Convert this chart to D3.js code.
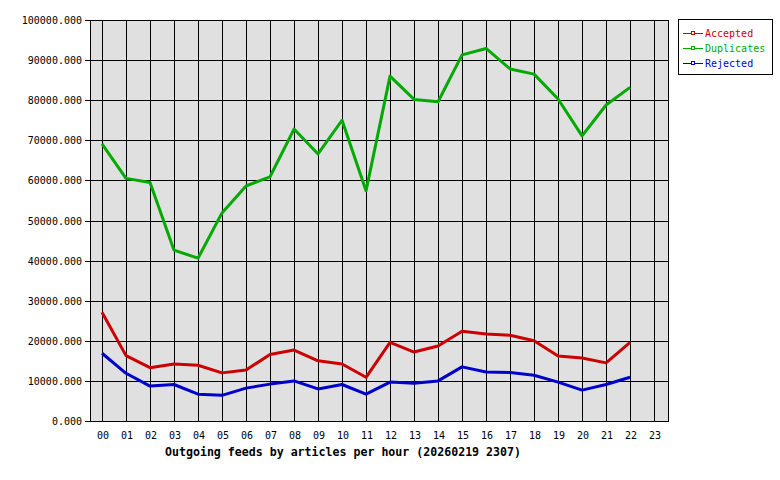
<!DOCTYPE html>
<html><head><meta charset="utf-8">
<script src="https://cdn.jsdelivr.net/npm/d3@7"></script>
<style>body{margin:0;background:#fff}svg{display:block}</style>
</head><body>
<script>
const hours = ["00","01","02","03","04","05","06","07","08","09","10","11","12","13","14","15","16","17","18","19","20","21","22","23"];
const accepted = [27100,16300,13300,14200,13900,12000,12700,16600,17700,15000,14200,10900,19600,17200,18700,22400,21700,21400,20000,16200,15700,14500,19600];
const duplicates = [69100,60500,59500,42600,40600,51900,58600,60900,72800,66600,75000,57400,86000,80200,79600,91300,92900,87800,86500,80300,71100,78800,83200];
const rejected = [16900,11900,8700,9100,6700,6400,8200,9200,10000,8000,9100,6700,9700,9400,10000,13500,12200,12100,11400,9700,7700,9100,10900];
const yTicks = [0,10000,20000,30000,40000,50000,60000,70000,80000,90000,100000];
const seriesNames = ["Accepted","Duplicates","Rejected"];
const seriesColors = ["#cc0000","#00aa00","#0000cc"];
const title = "Outgoing feeds by articles per hour (20260219 2307)";

const W=780,H=480, L=90, R=668, T=20, B=421;
const svg = d3.select("body").append("svg").attr("width",W).attr("height",H);
const x = d3.scaleLinear().domain([-0.5,23.58]).range([L,R]);
const y = d3.scaleLinear().domain([0,100000]).range([B,T]);
const font = "'DejaVu Sans Mono', monospace";

svg.append("rect").attr("x",L).attr("y",T).attr("width",R-L).attr("height",B-T)
  .attr("fill","#e0e0e0");

// grid
const g = svg.append("g").attr("shape-rendering","crispEdges");
g.selectAll(".hg").data(yTicks).join("line")
  .attr("x1",L-5).attr("x2",R).attr("y1",d=>Math.round(y(d))+0.5).attr("y2",d=>Math.round(y(d))+0.5)
  .attr("stroke","#000");
g.selectAll(".vg").data(hours).join("line")
  .attr("x1",(d,i)=>Math.round(x(i))+0.5).attr("x2",(d,i)=>Math.round(x(i))+0.5)
  .attr("y1",T).attr("y2",B).attr("stroke","#000");
g.append("rect").attr("x",L+0.5).attr("y",T+0.5).attr("width",R-L).attr("height",B-T)
  .attr("fill","none").attr("stroke","#000");

// y labels
svg.selectAll(".yl").data(yTicks).join("text")
  .attr("x",82).attr("y",d=>y(d)+4).attr("text-anchor","end")
  .attr("font-family",font).attr("font-size",10).attr("fill","#000")
  .text(d=>d3.format(".3f")(d));
// x labels
svg.selectAll(".xl").data(hours).join("text")
  .attr("x",(d,i)=>x(i)+1).attr("y",439).attr("text-anchor","middle")
  .attr("font-family",font).attr("font-size",10).attr("fill","#000")
  .text(d=>d);
svg.append("text").attr("x",343).attr("y",456).attr("text-anchor","middle")
  .attr("font-family",font).attr("font-size",11.6).attr("font-weight","bold").text(title);

// lines
const data = [accepted, duplicates, rejected];
const line = d3.line().x((d,i)=>x(i)).y(d=>y(d));
data.forEach((s,k)=>{
  svg.append("path").attr("d",line(s)).attr("fill","none")
    .attr("stroke",seriesColors[k]).attr("stroke-width",3).attr("stroke-linejoin","round");
});

// legend
const lg = svg.append("g");
lg.append("rect").attr("x",678.5).attr("y",19.5).attr("width",94).attr("height",55)
  .attr("fill","#fff").attr("stroke","#000").attr("shape-rendering","crispEdges");
seriesNames.forEach((n,k)=>{
  const yy = 33 + k*15;
  lg.append("line").attr("x1",683).attr("x2",703).attr("y1",yy+0.5).attr("y2",yy+0.5)
    .attr("stroke",seriesColors[k]).attr("shape-rendering","crispEdges");
  lg.append("rect").attr("x",691.5).attr("y",yy-1.5).attr("width",3).attr("height",3)
    .attr("fill","#fff").attr("stroke",seriesColors[k]).attr("stroke-width",1).attr("shape-rendering","crispEdges");
  lg.append("text").attr("x",705).attr("y",yy+4).attr("font-family",font).attr("font-size",10)
    .attr("fill",seriesColors[k]).text(n);
});
</script>
</body></html>
